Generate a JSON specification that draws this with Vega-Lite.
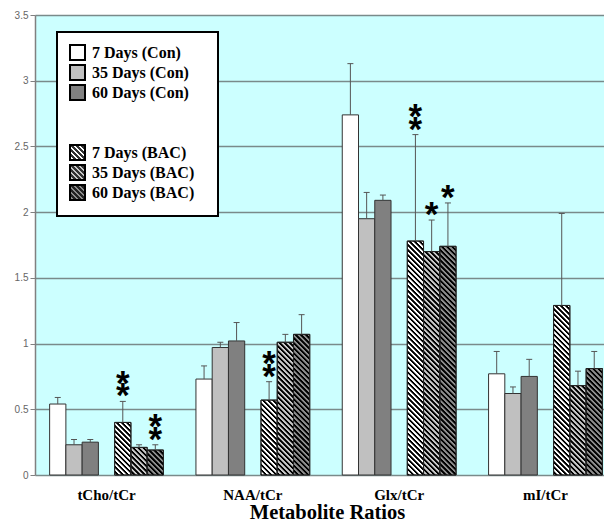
{
"$schema":"https://vega.github.io/schema/vega-lite/v6.json",
"autosize":{"type":"none"},
"padding":{"left":35,"top":15,"right":0,"bottom":49},
"width":569,"height":460,
"background":"#ffffff",
"view":{"fill":"#ccffff","stroke":null},
"data":{"values":[
{"metabolite":"tCho/tCr","group":"7 Days (Con)","condition":"Con","value":0.54,"upper":0.59,"sig":""},
{"metabolite":"tCho/tCr","group":"35 Days (Con)","condition":"Con","value":0.23,"upper":0.27,"sig":""},
{"metabolite":"tCho/tCr","group":"60 Days (Con)","condition":"Con","value":0.25,"upper":0.27,"sig":""},
{"metabolite":"tCho/tCr","group":"7 Days (BAC)","condition":"BAC","value":0.40,"upper":0.56,"sig":"**"},
{"metabolite":"tCho/tCr","group":"35 Days (BAC)","condition":"BAC","value":0.21,"upper":0.23,"sig":""},
{"metabolite":"tCho/tCr","group":"60 Days (BAC)","condition":"BAC","value":0.19,"upper":0.23,"sig":"**"},
{"metabolite":"NAA/tCr","group":"7 Days (Con)","condition":"Con","value":0.73,"upper":0.83,"sig":""},
{"metabolite":"NAA/tCr","group":"35 Days (Con)","condition":"Con","value":0.97,"upper":1.01,"sig":""},
{"metabolite":"NAA/tCr","group":"60 Days (Con)","condition":"Con","value":1.02,"upper":1.16,"sig":""},
{"metabolite":"NAA/tCr","group":"7 Days (BAC)","condition":"BAC","value":0.57,"upper":0.71,"sig":"**"},
{"metabolite":"NAA/tCr","group":"35 Days (BAC)","condition":"BAC","value":1.01,"upper":1.07,"sig":""},
{"metabolite":"NAA/tCr","group":"60 Days (BAC)","condition":"BAC","value":1.07,"upper":1.22,"sig":""},
{"metabolite":"Glx/tCr","group":"7 Days (Con)","condition":"Con","value":2.74,"upper":3.13,"sig":""},
{"metabolite":"Glx/tCr","group":"35 Days (Con)","condition":"Con","value":1.95,"upper":2.15,"sig":""},
{"metabolite":"Glx/tCr","group":"60 Days (Con)","condition":"Con","value":2.09,"upper":2.13,"sig":""},
{"metabolite":"Glx/tCr","group":"7 Days (BAC)","condition":"BAC","value":1.78,"upper":2.59,"sig":"**"},
{"metabolite":"Glx/tCr","group":"35 Days (BAC)","condition":"BAC","value":1.70,"upper":1.94,"sig":"*"},
{"metabolite":"Glx/tCr","group":"60 Days (BAC)","condition":"BAC","value":1.74,"upper":2.07,"sig":"*"},
{"metabolite":"mI/tCr","group":"7 Days (Con)","condition":"Con","value":0.77,"upper":0.94,"sig":""},
{"metabolite":"mI/tCr","group":"35 Days (Con)","condition":"Con","value":0.62,"upper":0.67,"sig":""},
{"metabolite":"mI/tCr","group":"60 Days (Con)","condition":"Con","value":0.75,"upper":0.88,"sig":""},
{"metabolite":"mI/tCr","group":"7 Days (BAC)","condition":"BAC","value":1.29,"upper":1.99,"sig":""},
{"metabolite":"mI/tCr","group":"35 Days (BAC)","condition":"BAC","value":0.68,"upper":0.79,"sig":""},
{"metabolite":"mI/tCr","group":"60 Days (BAC)","condition":"BAC","value":0.81,"upper":0.94,"sig":""}
]},
"encoding":{
"x":{"field":"metabolite","type":"nominal","title":"Metabolite Ratios",
"scale":{"domain":["tCho/tCr","NAA/tCr","Glx/tCr","mI/tCr"],"range":[0,582],"paddingInner":0.2222,"paddingOuter":0.1},
"axis":{"labelAngle":0,"ticks":false,"tickSize":0,"domain":false,"grid":false,"labelFont":"Liberation Serif","labelFontWeight":"bold","labelFontSize":15,"labelColor":"#000000","labelPadding":12,"titleFont":"Liberation Serif","titleFontWeight":"bold","titleFontSize":20.5,"titleColor":"#000000","titleX":292,"titleY":43,"titleBaseline":"alphabetic"}},
"xOffset":{"field":"group","type":"nominal","scale":{"domain":["7 Days (Con)","35 Days (Con)","60 Days (Con)","gap","7 Days (BAC)","35 Days (BAC)","60 Days (BAC)"],"paddingInner":0,"paddingOuter":0}}
},
"layer":[
{"mark":{"type":"bar","stroke":"#333333","strokeWidth":1},
"encoding":{
"y":{"field":"value","type":"quantitative","title":null,"scale":{"domain":[0,3.5],"nice":false},
"axis":{"values":[0,0.5,1,1.5,2,2.5,3,3.5],"format":"~g","labelFont":"Liberation Sans","labelFontSize":10,"labelColor":"#666666","labelPadding":2,"tickColor":"#808080","tickSize":5,"tickWidth":1,"domainColor":"#808080","domainWidth":1.5,"gridColor":"#7a8a8a","gridWidth":1.5,"gridOpacity":1}},
"fill":{"field":"group","type":"nominal","legend":null,
"scale":{"domain":["7 Days (Con)","35 Days (Con)","60 Days (Con)","7 Days (BAC)","35 Days (BAC)","60 Days (BAC)"],"range":["#ffffff","#c0c0c0","#808080","#ffffff","#c8c8c8","#8c8c8c"]}}
}},
{"transform":[{"filter":"datum.condition === 'BAC'"}],
"mark":{"type":"tick","size":16.26,"thickness":238.74,"yOffset":119.37,"clip":true,"opacity":1,
"fill":{"gradient":"linear","x1":0,"y1":1,"x2":0.07241,"y2":-0.06317,"stops":[
{"offset":0,"color":"#000"},{"offset":0.007,"color":"#000"},{"offset":0.01,"color":"transparent"},{"offset":0.017,"color":"transparent"},
{"offset":0.02,"color":"#000"},{"offset":0.027,"color":"#000"},{"offset":0.03,"color":"transparent"},{"offset":0.037,"color":"transparent"},
{"offset":0.04,"color":"#000"},{"offset":0.047,"color":"#000"},{"offset":0.05,"color":"transparent"},{"offset":0.057,"color":"transparent"},
{"offset":0.06,"color":"#000"},{"offset":0.067,"color":"#000"},{"offset":0.07,"color":"transparent"},{"offset":0.077,"color":"transparent"},
{"offset":0.08,"color":"#000"},{"offset":0.087,"color":"#000"},{"offset":0.09,"color":"transparent"},{"offset":0.097,"color":"transparent"},
{"offset":0.1,"color":"#000"},{"offset":0.107,"color":"#000"},{"offset":0.11,"color":"transparent"},{"offset":0.117,"color":"transparent"},
{"offset":0.12,"color":"#000"},{"offset":0.127,"color":"#000"},{"offset":0.13,"color":"transparent"},{"offset":0.137,"color":"transparent"},
{"offset":0.14,"color":"#000"},{"offset":0.147,"color":"#000"},{"offset":0.15,"color":"transparent"},{"offset":0.157,"color":"transparent"},
{"offset":0.16,"color":"#000"},{"offset":0.167,"color":"#000"},{"offset":0.17,"color":"transparent"},{"offset":0.177,"color":"transparent"},
{"offset":0.18,"color":"#000"},{"offset":0.187,"color":"#000"},{"offset":0.19,"color":"transparent"},{"offset":0.197,"color":"transparent"},
{"offset":0.2,"color":"#000"},{"offset":0.207,"color":"#000"},{"offset":0.21,"color":"transparent"},{"offset":0.217,"color":"transparent"},
{"offset":0.22,"color":"#000"},{"offset":0.227,"color":"#000"},{"offset":0.23,"color":"transparent"},{"offset":0.237,"color":"transparent"},
{"offset":0.24,"color":"#000"},{"offset":0.247,"color":"#000"},{"offset":0.25,"color":"transparent"},{"offset":0.257,"color":"transparent"},
{"offset":0.26,"color":"#000"},{"offset":0.267,"color":"#000"},{"offset":0.27,"color":"transparent"},{"offset":0.277,"color":"transparent"},
{"offset":0.28,"color":"#000"},{"offset":0.287,"color":"#000"},{"offset":0.29,"color":"transparent"},{"offset":0.297,"color":"transparent"},
{"offset":0.3,"color":"#000"},{"offset":0.307,"color":"#000"},{"offset":0.31,"color":"transparent"},{"offset":0.317,"color":"transparent"},
{"offset":0.32,"color":"#000"},{"offset":0.327,"color":"#000"},{"offset":0.33,"color":"transparent"},{"offset":0.337,"color":"transparent"},
{"offset":0.34,"color":"#000"},{"offset":0.347,"color":"#000"},{"offset":0.35,"color":"transparent"},{"offset":0.357,"color":"transparent"},
{"offset":0.36,"color":"#000"},{"offset":0.367,"color":"#000"},{"offset":0.37,"color":"transparent"},{"offset":0.377,"color":"transparent"},
{"offset":0.38,"color":"#000"},{"offset":0.387,"color":"#000"},{"offset":0.39,"color":"transparent"},{"offset":0.397,"color":"transparent"},
{"offset":0.4,"color":"#000"},{"offset":0.407,"color":"#000"},{"offset":0.41,"color":"transparent"},{"offset":0.417,"color":"transparent"},
{"offset":0.42,"color":"#000"},{"offset":0.427,"color":"#000"},{"offset":0.43,"color":"transparent"},{"offset":0.437,"color":"transparent"},
{"offset":0.44,"color":"#000"},{"offset":0.447,"color":"#000"},{"offset":0.45,"color":"transparent"},{"offset":0.457,"color":"transparent"},
{"offset":0.46,"color":"#000"},{"offset":0.467,"color":"#000"},{"offset":0.47,"color":"transparent"},{"offset":0.477,"color":"transparent"},
{"offset":0.48,"color":"#000"},{"offset":0.487,"color":"#000"},{"offset":0.49,"color":"transparent"},{"offset":0.497,"color":"transparent"},
{"offset":0.5,"color":"#000"},{"offset":0.507,"color":"#000"},{"offset":0.51,"color":"transparent"},{"offset":0.517,"color":"transparent"},
{"offset":0.52,"color":"#000"},{"offset":0.527,"color":"#000"},{"offset":0.53,"color":"transparent"},{"offset":0.537,"color":"transparent"},
{"offset":0.54,"color":"#000"},{"offset":0.547,"color":"#000"},{"offset":0.55,"color":"transparent"},{"offset":0.557,"color":"transparent"},
{"offset":0.56,"color":"#000"},{"offset":0.567,"color":"#000"},{"offset":0.57,"color":"transparent"},{"offset":0.577,"color":"transparent"},
{"offset":0.58,"color":"#000"},{"offset":0.587,"color":"#000"},{"offset":0.59,"color":"transparent"},{"offset":0.597,"color":"transparent"},
{"offset":0.6,"color":"#000"},{"offset":0.607,"color":"#000"},{"offset":0.61,"color":"transparent"},{"offset":0.617,"color":"transparent"},
{"offset":0.62,"color":"#000"},{"offset":0.627,"color":"#000"},{"offset":0.63,"color":"transparent"},{"offset":0.637,"color":"transparent"},
{"offset":0.64,"color":"#000"},{"offset":0.647,"color":"#000"},{"offset":0.65,"color":"transparent"},{"offset":0.657,"color":"transparent"},
{"offset":0.66,"color":"#000"},{"offset":0.667,"color":"#000"},{"offset":0.67,"color":"transparent"},{"offset":0.677,"color":"transparent"},
{"offset":0.68,"color":"#000"},{"offset":0.687,"color":"#000"},{"offset":0.69,"color":"transparent"},{"offset":0.697,"color":"transparent"},
{"offset":0.7,"color":"#000"},{"offset":0.707,"color":"#000"},{"offset":0.71,"color":"transparent"},{"offset":0.717,"color":"transparent"},
{"offset":0.72,"color":"#000"},{"offset":0.727,"color":"#000"},{"offset":0.73,"color":"transparent"},{"offset":0.737,"color":"transparent"},
{"offset":0.74,"color":"#000"},{"offset":0.747,"color":"#000"},{"offset":0.75,"color":"transparent"},{"offset":0.757,"color":"transparent"},
{"offset":0.76,"color":"#000"},{"offset":0.767,"color":"#000"},{"offset":0.77,"color":"transparent"},{"offset":0.777,"color":"transparent"},
{"offset":0.78,"color":"#000"},{"offset":0.787,"color":"#000"},{"offset":0.79,"color":"transparent"},{"offset":0.797,"color":"transparent"},
{"offset":0.8,"color":"#000"},{"offset":0.807,"color":"#000"},{"offset":0.81,"color":"transparent"},{"offset":0.817,"color":"transparent"},
{"offset":0.82,"color":"#000"},{"offset":0.827,"color":"#000"},{"offset":0.83,"color":"transparent"},{"offset":0.837,"color":"transparent"},
{"offset":0.84,"color":"#000"},{"offset":0.847,"color":"#000"},{"offset":0.85,"color":"transparent"},{"offset":0.857,"color":"transparent"},
{"offset":0.86,"color":"#000"},{"offset":0.867,"color":"#000"},{"offset":0.87,"color":"transparent"},{"offset":0.877,"color":"transparent"},
{"offset":0.88,"color":"#000"},{"offset":0.887,"color":"#000"},{"offset":0.89,"color":"transparent"},{"offset":0.897,"color":"transparent"},
{"offset":0.9,"color":"#000"},{"offset":0.907,"color":"#000"},{"offset":0.91,"color":"transparent"},{"offset":0.917,"color":"transparent"},
{"offset":0.92,"color":"#000"},{"offset":0.927,"color":"#000"},{"offset":0.93,"color":"transparent"},{"offset":0.937,"color":"transparent"},
{"offset":0.94,"color":"#000"},{"offset":0.947,"color":"#000"},{"offset":0.95,"color":"transparent"},{"offset":0.957,"color":"transparent"},
{"offset":0.96,"color":"#000"},{"offset":0.967,"color":"#000"},{"offset":0.97,"color":"transparent"},{"offset":0.977,"color":"transparent"},
{"offset":0.98,"color":"#000"},{"offset":0.987,"color":"#000"},{"offset":0.99,"color":"transparent"},{"offset":0.997,"color":"transparent"},
{"offset":1,"color":"#000"}]}},
"encoding":{"y":{"field":"value","type":"quantitative","title":null}}},
{"transform":[{"filter":"datum.condition === 'BAC'"}],
"mark":{"type":"bar","fill":"transparent","stroke":"#222222","strokeWidth":1},
"encoding":{"y":{"field":"value","type":"quantitative","title":null}}},
{"mark":{"type":"rule","color":"#555555","strokeWidth":1},
"encoding":{"y":{"field":"value","type":"quantitative","title":null},"y2":{"field":"upper"}}},
{"mark":{"type":"tick","color":"#555555","size":6,"thickness":1,"opacity":1},
"encoding":{"y":{"field":"upper","type":"quantitative","title":null}}},
{"transform":[{"filter":"datum.sig !== ''"}],
"mark":{"type":"text","font":"Liberation Sans","fontWeight":"bold","fontSize":35,"baseline":"bottom","dy":13,"color":"#000000"},
"encoding":{"y":{"field":"upper","type":"quantitative","title":null},"text":{"value":"*"}}},
{"transform":[{"filter":"datum.sig === '**'"}],
"mark":{"type":"text","font":"Liberation Sans","fontWeight":"bold","fontSize":35,"baseline":"bottom","dy":0.5,"color":"#000000"},
"encoding":{"y":{"field":"upper","type":"quantitative","title":null},"text":{"value":"*"}}},
{"mark":{"type":"point","opacity":0,"filled":true},
"encoding":{"y":{"field":"value","type":"quantitative","title":null},
"shape":{"field":"group","type":"nominal",
"scale":{"domain":["7 Days (Con)","35 Days (Con)","60 Days (Con)"," ","  ","7 Days (BAC)","35 Days (BAC)","60 Days (BAC)"],"range":["square","square","square","square","square","square","square","square"]},
"legend":{"orient":"none","legendX":22,"legendY":17,"title":"\u00a0","titleOrient":"right","titlePadding":12,"titleFontSize":16,"zindex":1,"symbolSize":225,"labelFont":"Liberation Serif","labelFontWeight":"bold","labelFontSize":16,"labelColor":"#000000","labelOffset":6,"fillColor":"#ffffff","strokeColor":"#000000","padding":12,"rowPadding":-6.1,
"encoding":{
"legend":{"strokeWidth":{"value":2}},
"symbols":{
"opacity":{"value":1},
"fillOpacity":{"value":1},
"strokeOpacity":{"value":1},
"fill":{"condition":[
{"test":"datum.value === '7 Days (Con)'","value":"#ffffff"},
{"test":"datum.value === '35 Days (Con)'","value":"#c0c0c0"},
{"test":"datum.value === '60 Days (Con)'","value":"#808080"},
{"test":"datum.value === '7 Days (BAC)'","value":{"gradient":"linear","x1":0,"y1":1,"x2":1,"y2":0,"stops":[{"offset":0,"color":"#333"},{"offset":0.07,"color":"#333"},{"offset":0.0833,"color":"#ffffff"},{"offset":0.15,"color":"#ffffff"},{"offset":0.1667,"color":"#333"},{"offset":0.2367,"color":"#333"},{"offset":0.25,"color":"#ffffff"},{"offset":0.3167,"color":"#ffffff"},{"offset":0.3333,"color":"#333"},{"offset":0.4033,"color":"#333"},{"offset":0.4167,"color":"#ffffff"},{"offset":0.4833,"color":"#ffffff"},{"offset":0.5,"color":"#333"},{"offset":0.57,"color":"#333"},{"offset":0.5833,"color":"#ffffff"},{"offset":0.65,"color":"#ffffff"},{"offset":0.6667,"color":"#333"},{"offset":0.7367,"color":"#333"},{"offset":0.75,"color":"#ffffff"},{"offset":0.8167,"color":"#ffffff"},{"offset":0.8333,"color":"#333"},{"offset":0.9033,"color":"#333"},{"offset":0.9167,"color":"#ffffff"},{"offset":0.9833,"color":"#ffffff"},{"offset":1,"color":"#333"}]}},
{"test":"datum.value === '35 Days (BAC)'","value":{"gradient":"linear","x1":0,"y1":1,"x2":1,"y2":0,"stops":[{"offset":0,"color":"#333"},{"offset":0.07,"color":"#333"},{"offset":0.0833,"color":"#c8c8c8"},{"offset":0.15,"color":"#c8c8c8"},{"offset":0.1667,"color":"#333"},{"offset":0.2367,"color":"#333"},{"offset":0.25,"color":"#c8c8c8"},{"offset":0.3167,"color":"#c8c8c8"},{"offset":0.3333,"color":"#333"},{"offset":0.4033,"color":"#333"},{"offset":0.4167,"color":"#c8c8c8"},{"offset":0.4833,"color":"#c8c8c8"},{"offset":0.5,"color":"#333"},{"offset":0.57,"color":"#333"},{"offset":0.5833,"color":"#c8c8c8"},{"offset":0.65,"color":"#c8c8c8"},{"offset":0.6667,"color":"#333"},{"offset":0.7367,"color":"#333"},{"offset":0.75,"color":"#c8c8c8"},{"offset":0.8167,"color":"#c8c8c8"},{"offset":0.8333,"color":"#333"},{"offset":0.9033,"color":"#333"},{"offset":0.9167,"color":"#c8c8c8"},{"offset":0.9833,"color":"#c8c8c8"},{"offset":1,"color":"#333"}]}},
{"test":"datum.value === '60 Days (BAC)'","value":{"gradient":"linear","x1":0,"y1":1,"x2":1,"y2":0,"stops":[{"offset":0,"color":"#222"},{"offset":0.07,"color":"#222"},{"offset":0.0833,"color":"#8c8c8c"},{"offset":0.15,"color":"#8c8c8c"},{"offset":0.1667,"color":"#222"},{"offset":0.2367,"color":"#222"},{"offset":0.25,"color":"#8c8c8c"},{"offset":0.3167,"color":"#8c8c8c"},{"offset":0.3333,"color":"#222"},{"offset":0.4033,"color":"#222"},{"offset":0.4167,"color":"#8c8c8c"},{"offset":0.4833,"color":"#8c8c8c"},{"offset":0.5,"color":"#222"},{"offset":0.57,"color":"#222"},{"offset":0.5833,"color":"#8c8c8c"},{"offset":0.65,"color":"#8c8c8c"},{"offset":0.6667,"color":"#222"},{"offset":0.7367,"color":"#222"},{"offset":0.75,"color":"#8c8c8c"},{"offset":0.8167,"color":"#8c8c8c"},{"offset":0.8333,"color":"#222"},{"offset":0.9033,"color":"#222"},{"offset":0.9167,"color":"#8c8c8c"},{"offset":0.9833,"color":"#8c8c8c"},{"offset":1,"color":"#222"}]}}
],"value":"transparent"},
"stroke":{"condition":{"test":"trim(datum.value) === ''","value":"transparent"},"value":"#000000"},
"strokeWidth":{"value":2}
}}}}
}}
]
}
